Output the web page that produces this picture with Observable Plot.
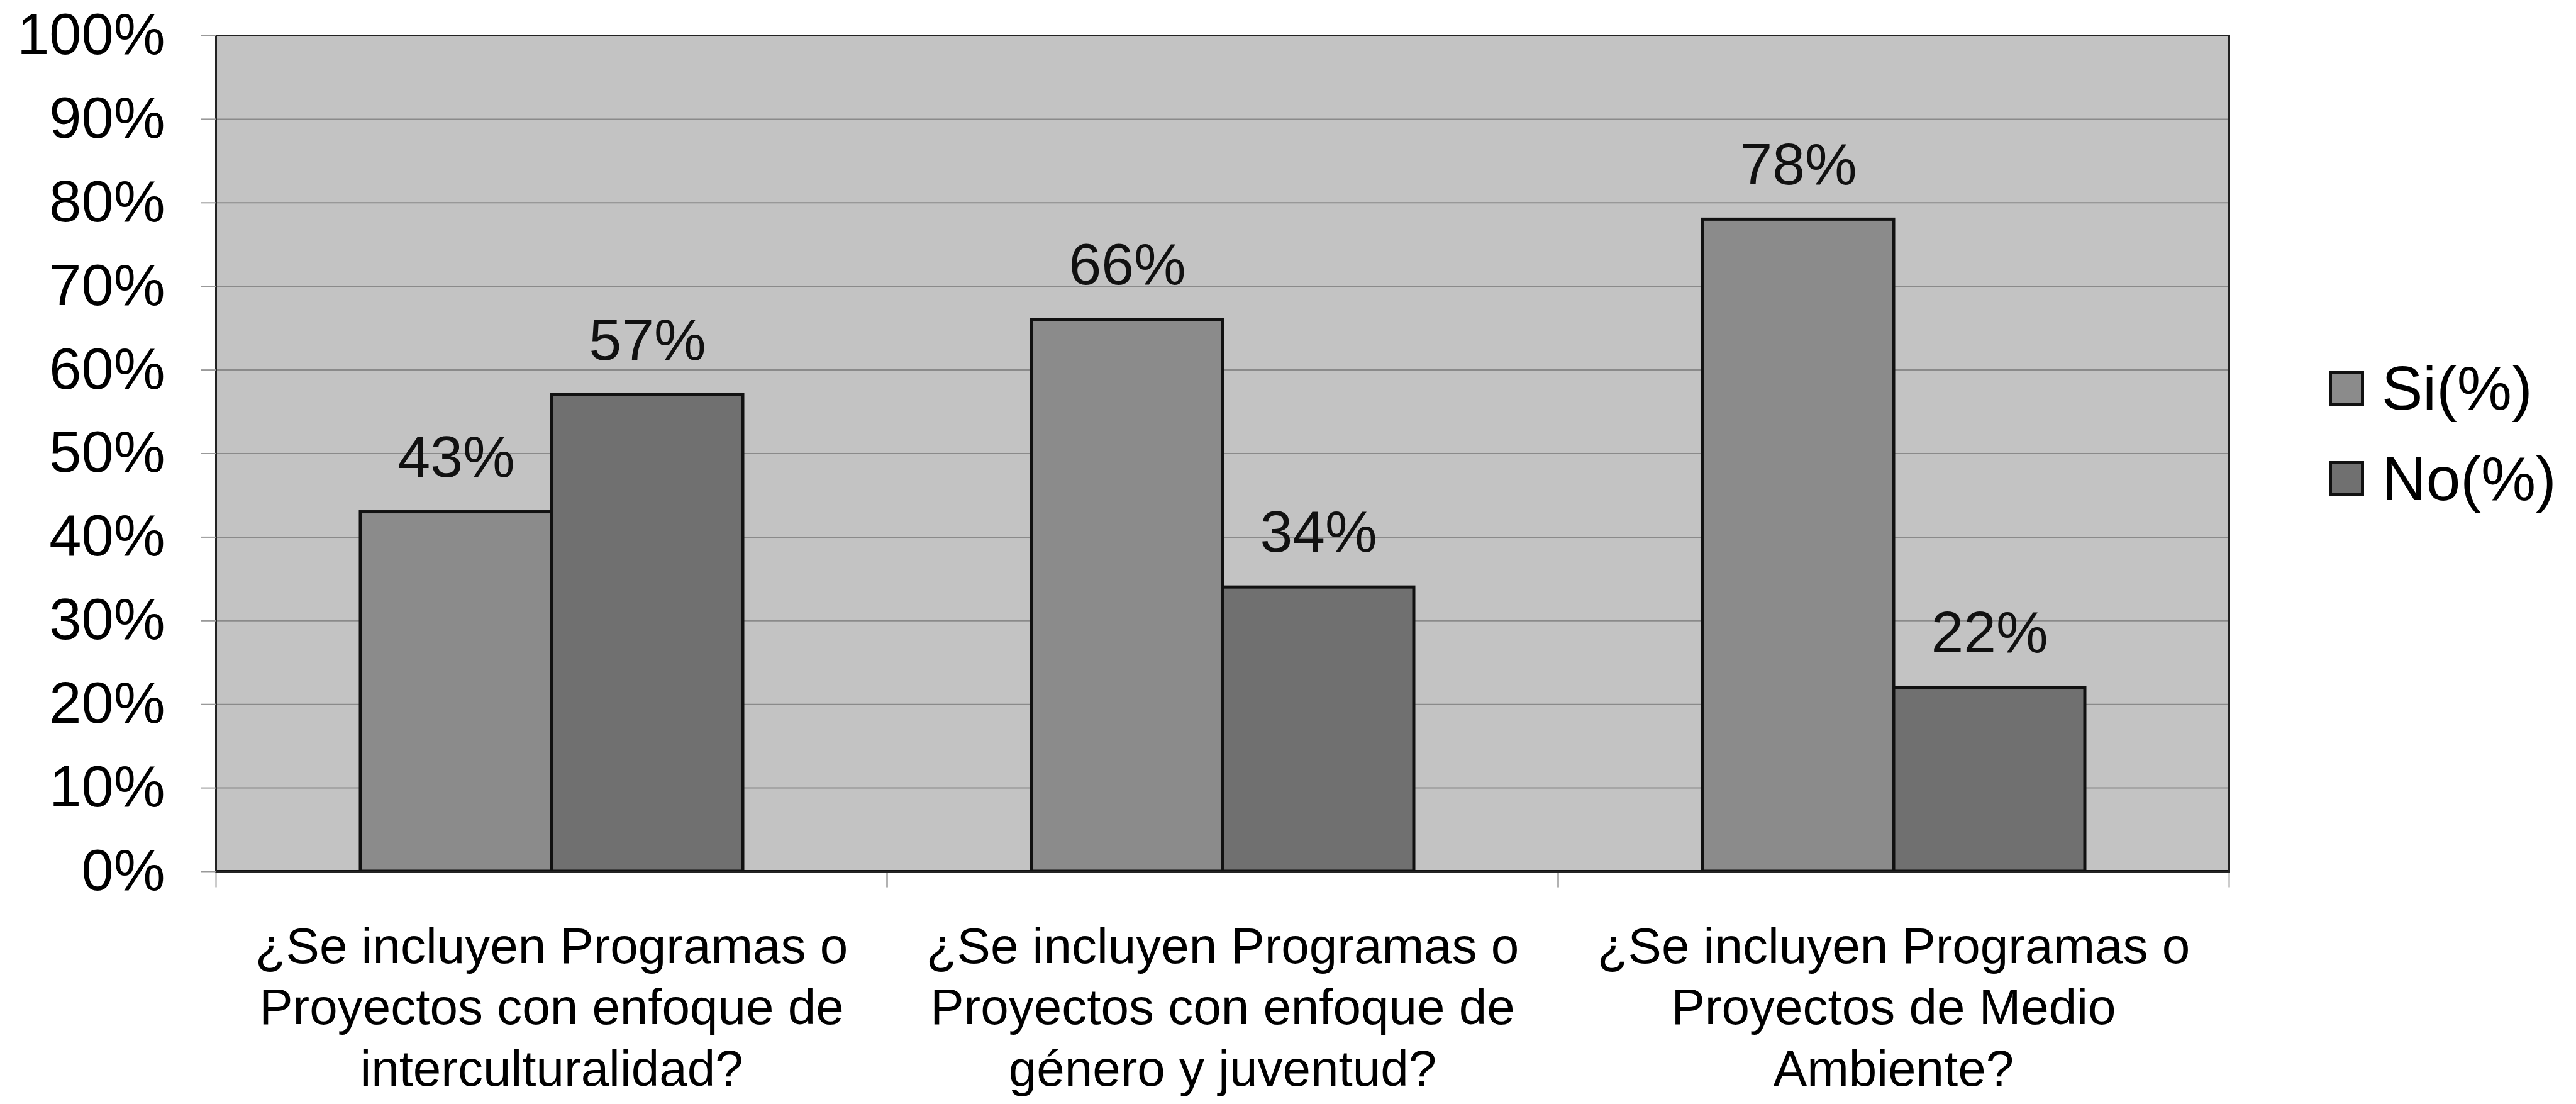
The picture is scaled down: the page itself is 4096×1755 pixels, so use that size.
<!DOCTYPE html>
<html><head><meta charset="utf-8">
<script src="https://cdn.jsdelivr.net/npm/d3@7"></script>
<script src="https://cdn.jsdelivr.net/npm/@observablehq/plot@0.6"></script>
<style>
body{margin:0;background:#fff;}
#wrap{position:relative;width:4096px;height:1755px;overflow:hidden;font-family:"Liberation Sans",Arial,sans-serif;}
#legend{position:absolute;left:3703px;top:545px;font-size:98px;color:#000;}
.item{display:flex;align-items:center;height:144px;}
.sw{width:56px;height:56px;border:5px solid #111;margin-right:28px;box-sizing:border-box;}
</style></head><body><div id="wrap"></div>
<script>
const categories = [
  "¿Se incluyen Programas o Proyectos con enfoque de interculturalidad?",
  "¿Se incluyen Programas o Proyectos con enfoque de género y juventud?",
  "¿Se incluyen Programas o Proyectos de Medio Ambiente?"
];
const categoryLines = [
  ["¿Se incluyen Programas o", "Proyectos con enfoque de", "interculturalidad?"],
  ["¿Se incluyen Programas o", "Proyectos con enfoque de", "género y juventud?"],
  ["¿Se incluyen Programas o", "Proyectos de Medio", "Ambiente?"]
];
const series = ["Si(%)", "No(%)"];
const siValues = [43, 66, 78];
const noValues = [57, 34, 22];
const yTicks = [0, 10, 20, 30, 40, 50, 60, 70, 80, 90, 100];
const seriesColors = ["#8b8b8b", "#707070"];

const data = [];
categories.forEach((c, i) => {
  data.push({category: c, series: series[0], value: siValues[i]});
  data.push({category: c, series: series[1], value: noValues[i]});
});

const mTop = 56, mBottom = 370;
const plotHeight = 1755 - mTop - mBottom;

const chart = Plot.plot({
  width: 4096, height: 1755,
  marginLeft: 342, marginRight: 551, marginTop: mTop, marginBottom: mBottom,
  style: {fontFamily: "'Liberation Sans', Arial, sans-serif", fontSize: "90px", color: "#000", background: "transparent"},
  fx: {domain: categories, padding: 0, label: null},
  x: {domain: series, paddingInner: 0, paddingOuter: 0.75, axis: null},
  y: {domain: [0, 100], label: null},
  color: {domain: series, range: seriesColors},
  marks: [
    Plot.frame({fill: "#c3c3c3", stroke: null, facet: "super"}),
    Plot.ruleY(yTicks.slice(1), {stroke: "#8a8a8a", strokeWidth: 2}),
    Plot.frame({anchor: "left", stroke: "#999", strokeWidth: 2, insetTop: plotHeight, insetBottom: -24}),
    Plot.frame({anchor: "right", stroke: "#999", strokeWidth: 2, insetTop: plotHeight, insetBottom: -24}),
    Plot.barY(data, {fx: "category", x: "series", y: "value", fill: "series", stroke: "#111", strokeWidth: 5}),
    Plot.text(data, {fx: "category", x: "series", y: "value", text: d => d.value + "%", dy: -86, fontSize: 93, fill: "#111"}),
    Plot.ruleY([0], {stroke: "#111", strokeWidth: 5}),
    Plot.frame({stroke: "#222", strokeWidth: 3, facet: "super"}),
    Plot.axisY({ticks: yTicks, tickFormat: d => d + "%", tickSize: 24, tickPadding: 57, stroke: "#999", strokeWidth: 2, fontSize: 92, label: null}),
    Plot.axisFx({anchor: "bottom", tickFormat: d => categoryLines[categories.indexOf(d)].join("\n"), tickSize: 0, tickPadding: 76, fontSize: 80, lineHeight: 1.22, label: null})
  ]
});
const wrap = document.getElementById("wrap");
wrap.appendChild(chart);

const legend = document.createElement("div");
legend.id = "legend";
series.forEach((s, i) => {
  const it = document.createElement("div");
  it.className = "item";
  const sw = document.createElement("div");
  sw.className = "sw";
  sw.style.background = seriesColors[i];
  const t = document.createElement("span");
  t.textContent = s;
  it.appendChild(sw); it.appendChild(t);
  legend.appendChild(it);
});
wrap.appendChild(legend);
</script></body></html>
